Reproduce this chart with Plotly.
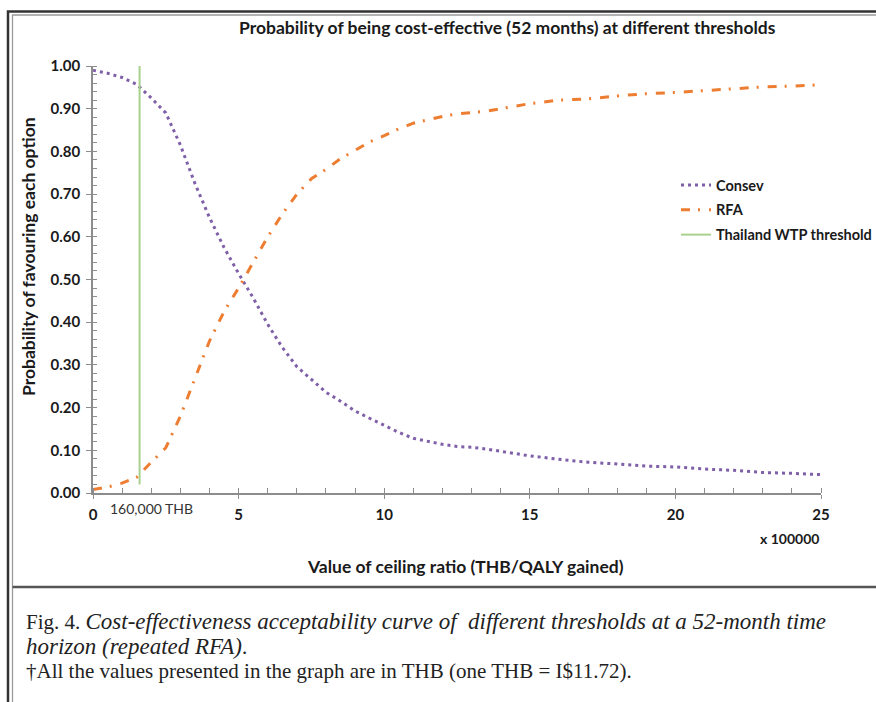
import plotly.graph_objects as go

# ---------------- data ----------------
ceiling_x = [0, 0.5, 1, 1.5, 2, 2.5, 3, 3.5, 4, 4.5, 5, 5.5, 6, 6.5, 7, 7.5, 8, 8.5, 9, 9.5,
             10, 10.5, 11, 11.5, 12, 12.5, 13, 13.5, 14, 14.5, 15, 16, 17, 18, 19, 20, 21, 22, 23, 24, 25]
consev = [0.99, 0.983, 0.973, 0.957, 0.925, 0.89, 0.815, 0.725, 0.645, 0.575, 0.514, 0.457, 0.395,
          0.341, 0.296, 0.265, 0.236, 0.215, 0.192, 0.175, 0.159, 0.142, 0.128, 0.121, 0.114, 0.109,
          0.107, 0.103, 0.098, 0.092, 0.087, 0.079, 0.072, 0.068, 0.063, 0.061, 0.056, 0.053, 0.048,
          0.046, 0.043]
rfa = [0.008, 0.014, 0.023, 0.037, 0.072, 0.106, 0.18, 0.266, 0.356, 0.425, 0.48, 0.54, 0.60,
       0.653, 0.70, 0.736, 0.758, 0.783, 0.803, 0.822, 0.837, 0.853, 0.866, 0.874, 0.882, 0.888,
       0.891, 0.894, 0.900, 0.906, 0.912, 0.92, 0.923, 0.93, 0.935, 0.938, 0.942, 0.946, 0.951,
       0.953, 0.956]
threshold_x = [1.6, 1.6]
threshold_y = [0.02, 1.0]

x_ticks = [0, 5, 10, 15, 20, 25]
y_ticks = [0, 0.1, 0.2, 0.3, 0.4, 0.5, 0.6, 0.7, 0.8, 0.9, 1.0]

# ---------------- layout helpers ----------------
W, H = 876, 702
L, R, T, B = 93, 55, 66, 209
PW, PH = W - L - R, H - T - B


def px2x(px):
    return (px - L) / PW


def py2y(py):
    return (H - B - py) / PH


SANS = "Lato"
SERIF = "Liberation Serif"
AXIS_COL = "#8c8c8c"

fig = go.Figure()
fig.add_trace(go.Scatter(x=ceiling_x, y=consev, mode="lines", name="Consev",
                         legendgroup="a",
                         line=dict(color="#7E5FA8", width=3, dash="3px,4px")))
fig.add_trace(go.Scatter(x=ceiling_x, y=rfa, mode="lines", name="RFA",
                         legendgroup="b",
                         line=dict(color="#ED7D31", width=3, dash="9px,8px,2px,9px")))
fig.add_trace(go.Scatter(x=threshold_x, y=threshold_y, mode="lines",
                         name="Thailand WTP threshold", legendgroup="c",
                         line=dict(color="#A9D18E", width=2)))

fig.update_layout(
    width=W, height=H, autosize=False,
    margin=dict(l=L, r=R, t=T, b=B, pad=0, autoexpand=False),
    paper_bgcolor="white", plot_bgcolor="white",
    font=dict(family=SANS, color="#1a1a1a"),
    showlegend=True,
    legend=dict(x=px2x(676), y=py2y(169), xanchor="left", yanchor="top",
                bgcolor="rgba(0,0,0,0)", traceorder="grouped", tracegroupgap=3,
                font=dict(family=SANS, size=14.5, weight="bold", color="#1a1a1a")),
    xaxis=dict(range=[0, 25], tickvals=x_ticks, ticktext=[str(v) for v in x_ticks],
               showgrid=False, zeroline=False, showline=True, linecolor=AXIS_COL, linewidth=1.5,
               ticks="outside", ticklen=4, tickcolor=AXIS_COL, tickwidth=1.3,
               ticklabelstandoff=3,
               minor=dict(dtick=1, ticks="inside", ticklen=5, tickcolor=AXIS_COL, tickwidth=1),
               tickfont=dict(family=SANS, size=15, weight="bold", color="#1a1a1a")),
    yaxis=dict(range=[0, 1.0], tickvals=y_ticks, tickformat=".2f",
               showgrid=False, zeroline=False, showline=True, linecolor=AXIS_COL, linewidth=1.5,
               ticks="outside", ticklen=5, tickcolor=AXIS_COL, tickwidth=1.3,
               ticklabelstandoff=3,
               minor=dict(dtick=0.02, ticks="inside", ticklen=4, tickcolor=AXIS_COL, tickwidth=1),
               tickfont=dict(family=SANS, size=15, weight="bold", color="#1a1a1a")),
    # inner halves of the crossing major ticks
    xaxis2=dict(overlaying="x", anchor="y", side="bottom", range=[0, 25], tickvals=x_ticks,
                showticklabels=False, showgrid=False, zeroline=False, showline=False,
                ticks="inside", ticklen=5, tickcolor=AXIS_COL, tickwidth=1.3),
    yaxis2=dict(overlaying="y", anchor="x", side="left", range=[0, 1.0], tickvals=y_ticks,
                showticklabels=False, showgrid=False, zeroline=False, showline=False,
                ticks="inside", ticklen=4, tickcolor=AXIS_COL, tickwidth=1.3),
)

ann = [
    dict(text="<b>Probability of being cost-effective (52 months) at different thresholds</b>",
         x=px2x(507), y=py2y(28), font=dict(size=17.5)),
    dict(text="<b>Probability of favouring each option</b>", x=px2x(28), y=py2y(257),
         textangle=-90, font=dict(size=17.5)),
    dict(text="<b>Value of ceiling ratio (THB/QALY gained)</b>", x=px2x(465), y=py2y(566),
         font=dict(size=17.5)),
    dict(text="<b>x 100000</b>", x=px2x(789), y=py2y(538), font=dict(size=14)),
    dict(text="160,000 THB", x=px2x(151), y=py2y(508), font=dict(size=14, color="#333333")),
]
for a in ann:
    fig.add_annotation(xref="paper", yref="paper", showarrow=False,
                       xanchor="center", yanchor="middle", **a)

IT = '<span style="font-size:23px"><i>%s</i></span>'
captions = [
    ("Fig. 4. " + IT % "Cost-effectiveness acceptability curve of  different thresholds at a 52-month time", 621),
    (IT % "horizon (repeated RFA)" + ".", 646),
    ("\u2020All the values presented in the graph are in THB (one THB = I$11.72).", 671),
]
for txt, yy in captions:
    fig.add_annotation(xref="paper", yref="paper", showarrow=False, x=px2x(24), y=py2y(yy),
                       xanchor="left", yanchor="middle", text=txt,
                       font=dict(family=SERIF, size=21, color="#222222"))


# frame drawn as open paths (paper coordinates)
def path(points, w, c):
    d = "M " + " L ".join("%.5f,%.5f" % (px2x(a), py2y(b)) for a, b in points)
    fig.add_shape(type="path", xref="paper", yref="paper", path=d,
                  line=dict(color=c, width=w), fillcolor="rgba(0,0,0,0)")


path([(876, 11.5), (8, 11.5), (8, 702)], 2.5, "#333333")
path([(876, 15), (12.5, 15), (12.5, 702)], 1.3, "#9a9a9a")
path([(12.5, 587), (876, 587)], 2.5, "#555555")

fig.write_html("out.html")
